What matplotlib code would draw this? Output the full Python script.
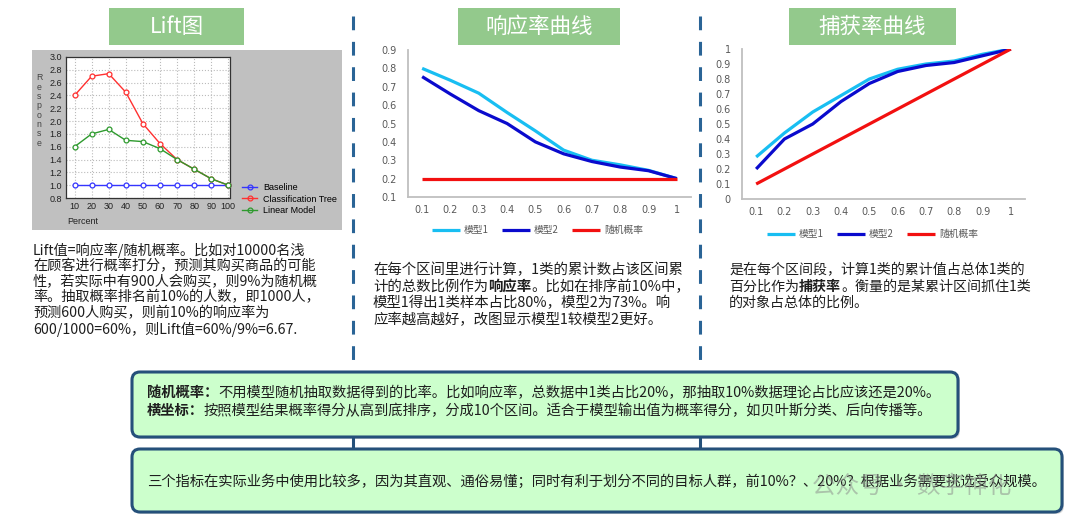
import matplotlib
matplotlib.use("Agg")
import matplotlib.pyplot as plt
from matplotlib.patches import FancyBboxPatch, Rectangle
from matplotlib.lines import Line2D

plt.rcParams['font.family'] = ['Noto Sans CJK SC', 'DejaVu Sans']

# ---------------- data ----------------
lift_pct = [10, 20, 30, 40, 50, 60, 70, 80, 90, 100]
lift_baseline = [1.0, 1.0, 1.0, 1.0, 1.0, 1.0, 1.0, 1.0, 1.0, 1.0]
lift_tree = [2.40, 2.70, 2.74, 2.45, 1.96, 1.65, 1.40, 1.25, 1.10, 1.00]
lift_linear = [1.60, 1.80, 1.87, 1.70, 1.68, 1.57, 1.40, 1.25, 1.10, 1.00]
lift_yticks = [0.8, 1.0, 1.2, 1.4, 1.6, 1.8, 2.0, 2.2, 2.4, 2.6, 2.8, 3.0]
lift_names = ['Baseline', 'Classification Tree', 'Linear Model']

deciles = [0.1, 0.2, 0.3, 0.4, 0.5, 0.6, 0.7, 0.8, 0.9, 1.0]
decile_labels = ['0.1', '0.2', '0.3', '0.4', '0.5', '0.6', '0.7', '0.8', '0.9', '1']
resp_model1 = [0.80, 0.735, 0.665, 0.56, 0.46, 0.355, 0.30, 0.275, 0.245, 0.20]
resp_model2 = [0.755, 0.66, 0.57, 0.50, 0.40, 0.335, 0.293, 0.263, 0.243, 0.20]
resp_random = [0.2, 0.2, 0.2, 0.2, 0.2, 0.2, 0.2, 0.2, 0.2, 0.2]
resp_yticks = [0.1, 0.2, 0.3, 0.4, 0.5, 0.6, 0.7, 0.8, 0.9]

cap_model1 = [0.28, 0.44, 0.58, 0.69, 0.80, 0.865, 0.90, 0.92, 0.965, 1.0]
cap_model2 = [0.20, 0.40, 0.50, 0.65, 0.77, 0.85, 0.89, 0.91, 0.955, 1.0]
cap_random = [0.1, 0.2, 0.3, 0.4, 0.5, 0.6, 0.7, 0.8, 0.9, 1.0]
cap_yticks = [0, 0.1, 0.2, 0.3, 0.4, 0.5, 0.6, 0.7, 0.8, 0.9, 1.0]
cap_ylabels = ['0', '0.1', '0.2', '0.3', '0.4', '0.5', '0.6', '0.7', '0.8', '0.9', '1']

series_names = ['模型1', '模型2', '随机概率']

titles = ['Lift图', '响应率曲线', '捕获率曲线']

lift_text = ['Lift值=响应率/随机概率。比如对10000名浅',
             '在顾客进行概率打分，预测其购买商品的可能',
             '性，若实际中有900人会购买，则9%为随机概',
             '率。抽取概率排名前10%的人数，即1000人，',
             '预测600人购买，则前10%的响应率为',
             '600/1000=60%，则Lift值=60%/9%=6.67.']
resp_text = [[('在每个区间里进行计算，1类的累计数占该区间累', False)],
             [('计的总数比例作为', False), ('响应率', True), ('。比如在排序前10%中，', False)],
             [('模型1得出1类样本占比80%，模型2为73%。响', False)],
             [('应率越高越好，改图显示模型1较模型2更好。', False)]]
cap_text = [[('是在每个区间段，计算1类的累计值占总体1类的', False)],
            [('百分比作为', False), ('捕获率', True), ('。衡量的是某累计区间抓住1类', False)],
            [('的对象占总体的比例。', False)]]
box1_text = [[('随机概率：', True), ('不用模型随机抽取数据得到的比率。比如响应率，总数据中1类占比20%，那抽取10%数据理论占比应该还是20%。', False)],
             [('横坐标：', True), ('按照模型结果概率得分从高到底排序，分成10个区间。适合于模型输出值为概率得分，如贝叶斯分类、后向传播等。', False)]]
box2_text = [[('三个指标在实际业务中使用比较多，因为其直观、通俗易懂；同时有利于划分不同的目标人群，前10%？、20%？根据业务需要挑选受众规模。', False)]]

# ---------------- figure ----------------
W, H = 1080, 527
fig = plt.figure(figsize=(W / 100, H / 100), dpi=100)
fig.patch.set_facecolor('white')

ax0 = fig.add_axes([0, 0, 1, 1], zorder=0)
ax0.set_xlim(0, W)
ax0.set_ylim(H, 0)
ax0.axis('off')


def px_axes(x0, y0, x1, y1):
    return fig.add_axes([x0 / W, 1 - y1 / H, (x1 - x0) / W, (y1 - y0) / H], zorder=2)


renderer = fig.canvas.get_renderer()
TXT = '#1e1e1e'


def rich(x, y, segments, size):
    for s, bold in segments:
        t = ax0.text(x, y, s, fontsize=size, fontweight='bold' if bold else 'normal',
                     ha='left', va='center', color=TXT)
        x += t.get_window_extent(renderer).width


# title boxes
GREEN = '#93C98C'
for (x0, x1), title in zip([(109, 244), (458, 620), (789, 956)], titles):
    ax0.add_patch(Rectangle((x0, 8), x1 - x0, 37, fc=GREEN, ec='none'))
    ax0.text((x0 + x1) / 2, 27, title, color='white', fontsize=15.5, ha='center', va='center')

# dashed dividers
DIV = '#2A6496'
for xd in (353, 700):
    ax0.add_line(Line2D([xd, xd], [16, 372], color=DIV, lw=2.2, dashes=(4.5, 3.8)))
    ax0.add_line(Line2D([xd, xd], [437, 449], color='#25507A', lw=2.2))

# bottom boxes
for (x0, y0, w, h) in [(132, 372, 826, 65), (132, 449, 930, 63)]:
    ax0.add_patch(FancyBboxPatch((x0 + 2, y0 + 2), w, h, boxstyle='round,pad=0,rounding_size=8',
                                 fc='#d9d9d9', ec='none', zorder=1))
    ax0.add_patch(FancyBboxPatch((x0, y0), w, h, boxstyle='round,pad=0,rounding_size=8',
                                 fc='#CCFFCC', ec='#25507A', lw=2.2, zorder=2))

# ---------------- Lift chart ----------------
ax0.add_patch(Rectangle((32, 50), 310, 180, fc='#C0C0C0', ec='none'))
ax1 = px_axes(66, 57, 230, 198)
ax1.set_facecolor('white')
ax1.set_xlim(5, 101)
ax1.set_ylim(0.8, 3.0)
ax1.set_xticks(lift_pct)
ax1.set_xticklabels([str(v) for v in lift_pct])
ax1.set_yticks(lift_yticks)
ax1.set_yticklabels(['%.1f' % v for v in lift_yticks])
ax1.tick_params(length=0, labelsize=6.5, pad=3, labelcolor='#222222')
for lab in ax1.get_xticklabels() + ax1.get_yticklabels():
    lab.set_family('Liberation Sans')
ax1.grid(True, color='#BBBBBB', ls=':', lw=0.8)
for sp in ax1.spines.values():
    sp.set_color('#333333')
    sp.set_linestyle((0, (1, 1)))
    sp.set_linewidth(0.9)
h_base, = ax1.plot(lift_pct, lift_baseline, color='#3535FF', lw=1, marker='o', ms=3.5,
                   mfc='white', mew=0.9, clip_on=False, zorder=3)
h_tree, = ax1.plot(lift_pct, lift_tree, color='#FF3030', lw=1, marker='o', ms=3.5,
                   mfc='white', mew=0.9, clip_on=False, zorder=3)
h_lin, = ax1.plot(lift_pct, lift_linear, color='#2E9A2E', lw=1, marker='o', ms=3.5,
                  mfc='white', mew=0.9, clip_on=False, zorder=4)
leg1 = ax1.legend([h_base, h_tree, h_lin], lift_names, loc='center left',
                  bbox_to_anchor=(242 / W, 1 - 199 / H), bbox_transform=fig.transFigure,
                  frameon=False, handlelength=1.7, handletextpad=0.6,
                  labelspacing=0.25, borderpad=0, borderaxespad=0,
                  prop={'family': 'Liberation Sans', 'size': 6.5})
for hnd in leg1.legend_handles:
    hnd.set_markerfacecolor('none')
for i, ch in enumerate('Response'):
    ax0.text(39, 78 + i * 9.3, ch, fontsize=6.3, ha='center', va='center',
             color='#444444', family='Liberation Sans')
ax0.text(67, 221, 'Percent', fontsize=6.5, ha='left', va='center', color='#222222',
         family='Liberation Sans')


# ---------------- Excel-like charts ----------------
def excel_axes(ax, yt, ylabels, ylim, ypad, xpad):
    ax.set_facecolor('none')
    ax.set_xlim(0.05, 1.05)
    ax.set_ylim(*ylim)
    ax.set_xticks(deciles)
    ax.set_xticklabels(decile_labels)
    ax.set_yticks(yt)
    ax.set_yticklabels(ylabels)
    ax.tick_params(length=0, labelsize=7, labelcolor='#595959')
    ax.tick_params(axis='y', pad=ypad)
    ax.tick_params(axis='x', pad=xpad)
    for lab in ax.get_xticklabels() + ax.get_yticklabels():
        lab.set_family('DejaVu Sans')
    for s in ('top', 'right'):
        ax.spines[s].set_visible(False)
    for s in ('left', 'bottom'):
        ax.spines[s].set_color('#BFBFBF')
        ax.spines[s].set_linewidth(1.3)


CYAN, BLUE, RED = '#18BEF2', '#0A0ACD', '#F21010'

ax2 = px_axes(408, 50, 691, 197)
excel_axes(ax2, resp_yticks, ['%.1f' % v for v in resp_yticks], (0.1, 0.9), 8, 6)
l1, = ax2.plot(deciles, resp_model1, color=CYAN, lw=2.3, solid_capstyle='butt')
l2, = ax2.plot(deciles, resp_model2, color=BLUE, lw=2.3, solid_capstyle='butt')
l3, = ax2.plot(deciles, resp_random, color=RED, lw=2.3, solid_capstyle='butt')
ax2.legend([l1, l2, l3], series_names, loc='center left', ncol=3,
           bbox_to_anchor=(432 / W, 1 - 230 / H), bbox_transform=fig.transFigure,
           frameon=False, fontsize=7, handlelength=2.9, handletextpad=0.35,
           columnspacing=1.4, borderpad=0, borderaxespad=0, labelcolor='#595959')

ax3 = px_axes(742, 49, 1025, 199)
excel_axes(ax3, cap_yticks, cap_ylabels, (0, 1), 8, 6)
c1, = ax3.plot(deciles, cap_model1, color=CYAN, lw=2.3, solid_capstyle='butt')
c2, = ax3.plot(deciles, cap_model2, color=BLUE, lw=2.3, solid_capstyle='butt')
c3, = ax3.plot(deciles, cap_random, color=RED, lw=2.3, solid_capstyle='butt')
ax3.legend([c1, c2, c3], series_names, loc='center left', ncol=3,
           bbox_to_anchor=(767 / W, 1 - 234 / H), bbox_transform=fig.transFigure,
           frameon=False, fontsize=7, handlelength=2.9, handletextpad=0.35,
           columnspacing=1.4, borderpad=0, borderaxespad=0, labelcolor='#595959')

# ---------------- paragraphs ----------------
for i, line in enumerate(lift_text):
    ax0.text(33, 250 + i * 15.8, line, fontsize=10.2, ha='left', va='center', color=TXT)
for i, segs in enumerate(resp_text):
    rich(373, 270 + i * 16.6, segs, 10.4)
for i, segs in enumerate(cap_text):
    rich(729, 270 + i * 16.6, segs, 10.1)
for i, segs in enumerate(box1_text):
    rich(147, 393 + i * 18, segs, 10.3)
rich(147, 482, box2_text[0], 10.3)

# watermark
ax0.text(812, 486, '公众号 · 数字神化', fontsize=17, color='#8a8a8a', alpha=0.5,
         ha='left', va='center', zorder=5)

fig.savefig('out.png', dpi=100)
